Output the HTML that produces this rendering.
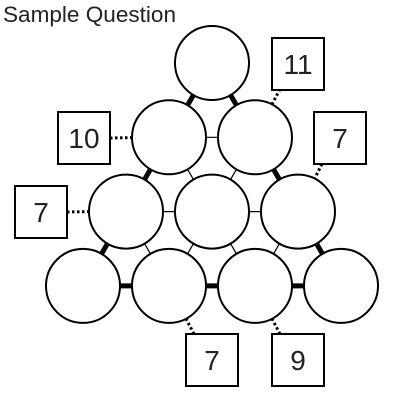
<!DOCTYPE html>
<html><head><meta charset="utf-8"><style>
html,body{margin:0;padding:0;background:#fff;width:400px;height:400px;overflow:hidden}
svg{display:block}
text{font-family:"Liberation Sans",sans-serif;fill:#222}
</style></head><body>
<svg id="s" width="400" height="400">
<text x="3" y="22" font-size="22" textLength="173" lengthAdjust="spacingAndGlyphs">Sample Question</text>
<g id="edges"></g><g id="dots"></g><g id="circles"></g><g id="boxes"></g>
</svg>
<script>
const NS='http://www.w3.org/2000/svg';
const rows=[1,2,3,4];
const clues=[
 {label:'11',x:272,y:38,cx:280,cy:89,tx:255,ty:137},
 {label:'10',x:58,y:112,cx:110,cy:138,tx:169,ty:137},
 {label:'7',x:314,y:112,cx:322,cy:164,tx:298,ty:211},
 {label:'7',x:15,y:186,cx:67,cy:212,tx:126,ty:211},
 {label:'7',x:186,y:334,cx:194,cy:334,tx:169,ty:286},
 {label:'9',x:272,y:334,cx:280,cy:334,tx:255,ty:286}
];
const thick=['0,0-1,0','0,0-1,1','1,0-2,0','1,1-2,2','2,0-3,0','2,2-3,3','3,0-3,1','3,1-3,2','3,2-3,3'];
const pos=(r,i)=>[212-43*r+86*i,63+74.3*r];
function mk(tag,a,parent){const e=document.createElementNS(NS,tag);for(const k in a)e.setAttribute(k,a[k]);document.getElementById(parent).appendChild(e);return e;}
function edge(r1,i1,r2,i2){
 const [x1,y1]=pos(r1,i1),[x2,y2]=pos(r2,i2);
 const t=thick.includes(r1+','+i1+'-'+r2+','+i2);
 const e=mk('line',{x1,y1,x2,y2,stroke:'#000','stroke-width':t?5:1.2},'edges');
 
 
}
for(let r=0;r<4;r++)for(let i=0;i<=r;i++){
 if(i<r)edge(r,i,r,i+1);
 if(r<3){edge(r,i,r+1,i);edge(r,i,r+1,i+1);}
}
for(let r=0;r<4;r++)for(let i=0;i<=r;i++){
 const [cx,cy]=pos(r,i);
 const c=mk('circle',{cx,cy,r:37,fill:'#fff',stroke:'#000','stroke-width':2},'circles');
 
 
}
clues.forEach(b=>{
 const dx=b.cx-b.tx,dy=b.cy-b.ty,d=Math.hypot(dx,dy);
 const l=mk('line',{x1:b.cx,y1:b.cy,x2:b.tx+dx/d*37,y2:b.ty+dy/d*37,stroke:'#000','stroke-width':3,'stroke-dasharray':'2.5 2.5'},'dots');
 
 
 const r=mk('rect',{x:b.x,y:b.y,width:52,height:52,fill:'#fff',stroke:'#000','stroke-width':2},'boxes');
 
 
 const t=mk('text',{x:b.x+26,y:b.y+36,'font-size':28,'text-anchor':'middle'},'boxes');
 t.textContent=b.label;
 
 
});
</script>
</body></html>
